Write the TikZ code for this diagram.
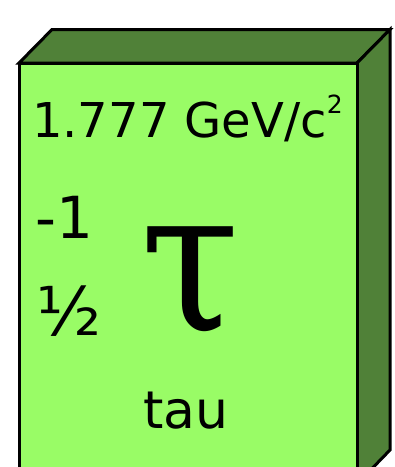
\documentclass[tikz,border=0pt]{standalone}
\usepackage{fontspec}
\setmainfont{DejaVu Sans}
\newfontfamily\greekfont{DejaVu Serif Condensed}
\definecolor{frontgreen}{RGB}{153,252,102}
\definecolor{sidegreen}{RGB}{80,129,56}
\begin{document}
\begin{tikzpicture}[
  x=1pt, y=-1pt,
  face/.style={draw=black, line width=3pt, line join=miter},
  lbl/.style={inner sep=0pt, anchor=base west},
  big/.style={font=\fontsize{58}{58}\selectfont}
]
\useasboundingbox (0,0) rectangle (395,467);
\clip (0,0) rectangle (395,467);
% box faces
\draw[face, fill=sidegreen] (19,63) -- (52,29.5) -- (390,29.5) -- (357,63) -- cycle;
\draw[face, fill=sidegreen] (357,63) -- (390,29.5) -- (390,450) -- (357,484) -- cycle;
\draw[face, fill=frontgreen] (19,63) rectangle (357,484);
% labels
\node[lbl, font=\fontsize{48}{48}\selectfont] (mass) at (32,137) {1.777 GeV/c\raisebox{24pt}{\fontsize{25}{25}\selectfont 2}};
\node[lbl, big] (charge) at (35,238) {-1};
\node[lbl, font=\fontsize{67}{67}\selectfont] (spin) at (36,335) {½};
\node[lbl, font=\fontsize{200}{200}\greekfont] (symbol) at (140,330) {τ};
\node[lbl, font=\fontsize{52}{52}\selectfont] (name) at (143,428) {tau};
\end{tikzpicture}
\end{document}
